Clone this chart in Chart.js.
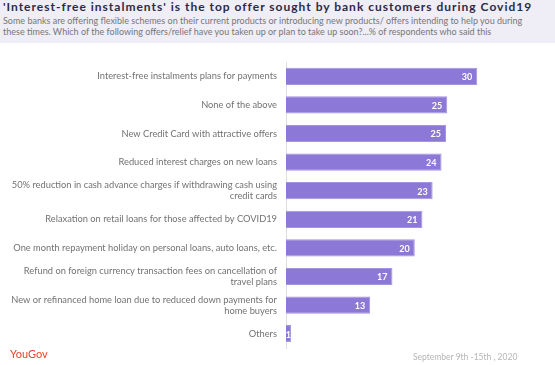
<!DOCTYPE html>
<html>
<head>
<meta charset="utf-8">
<script src="https://cdn.jsdelivr.net/npm/chart.js@4.4.0/dist/chart.umd.min.js"></script>
<style>
  html, body { margin:0; padding:0; background:#fff; }
  #wrap { position:relative; width:555px; height:365px; overflow:hidden; font-family:'Lato', sans-serif; }
  #head { position:absolute; left:0; top:0; width:555px; height:43px; background:#efedf6; }
  #title { position:absolute; left:3px; top:-1px; font-size:12px; font-weight:bold; letter-spacing:1px; color:#2b2b45; white-space:nowrap; }
  #sub { position:absolute; left:3px; top:15px; font-size:9px; line-height:11px; color:#777; white-space:nowrap; }
  #box { position:absolute; left:0; top:0; width:555px; height:365px; }
  #brand { position:absolute; left:10px; top:347px; font-size:11px; color:#e4462d; }
  #date { position:absolute; left:413px; top:352px; font-size:8.5px; color:#b5b5b5; }
</style>
</head>
<body>
<div id="wrap">
  <div id="head">
    <div id="title">'Interest-free instalments' is the top offer sought by bank customers during Covid19</div>
    <div id="sub">Some banks are offering flexible schemes on their current products or introducing new products/ offers intending to help you during<br>these times. Which of the following offers/relief have you taken up or plan to take up soon?...% of respondents who said this</div>
  </div>
  <div id="box"><canvas id="chart"></canvas></div>
  <div id="brand">YouGov</div>
  <div id="date">September 9th -15th , 2020</div>
</div>
<script>
// categories, top to bottom
const offers = [
  'Interest-free instalments plans for payments',
  'None of the above',
  'New Credit Card with attractive offers',
  'Reduced interest charges on new loans',
  ['50% reduction in cash advance charges if withdrawing cash using', 'credit cards'],
  'Relaxation on retail loans for those affected by COVID19',
  'One month repayment holiday on personal loans, auto loans, etc.',
  ['Refund on foreign currency transaction fees on cancellation of', 'travel plans'],
  ['New or refinanced home loan due to reduced down payments for', 'home buyers'],
  'Others'
];
// % of respondents (bar lengths estimated, labels rounded)
const pct = [30, 25.3, 25.1, 24.4, 23, 21.4, 20.2, 16.7, 13.2, 0.8];

const valueLabels = {
  id: 'valueLabels',
  afterDatasetsDraw(chart) {
    const ctx = chart.ctx;
    ctx.save();
    ctx.font = 'bold 9px Lato';
    ctx.fillStyle = '#fff';
    ctx.textAlign = 'right';
    ctx.textBaseline = 'middle';
    chart.getDatasetMeta(0).data.forEach((bar, i) => {
      const x = Math.max(bar.x - 5, bar.base + 5);
      ctx.fillText(Math.round(pct[i]), x, bar.y + 1);
    });
    ctx.restore();
  }
};

new Chart(document.getElementById('chart'), {
  type: 'bar',
  data: {
    labels: offers,
    datasets: [{ data: pct, backgroundColor: '#8c79d7', borderColor: '#a495e0', borderWidth: 1, borderSkipped: 'left', barPercentage: 0.6, categoryPercentage: 1 }]
  },
  options: {
    indexAxis: 'y',
    responsive: true, maintainAspectRatio: false, animation: false,
    layout: { padding: { top: 62, bottom: 17, right: 14, left: 0 } },
    plugins: { legend: { display: false }, tooltip: { enabled: false } },
    scales: {
      x: { display: false, min: 0, max: 40 },
      y: {
        afterFit(s) { s.width = 286; },
        grid: { display: false, drawTicks: false },
        border: { display: true, color: '#dedede', width: 1 },
        ticks: { color: '#727272', font: { family: 'Lato', size: 9.3 }, padding: 9, autoSkip: false }
      }
    }
  },
  plugins: [valueLabels]
});
</script>
</body>
</html>
